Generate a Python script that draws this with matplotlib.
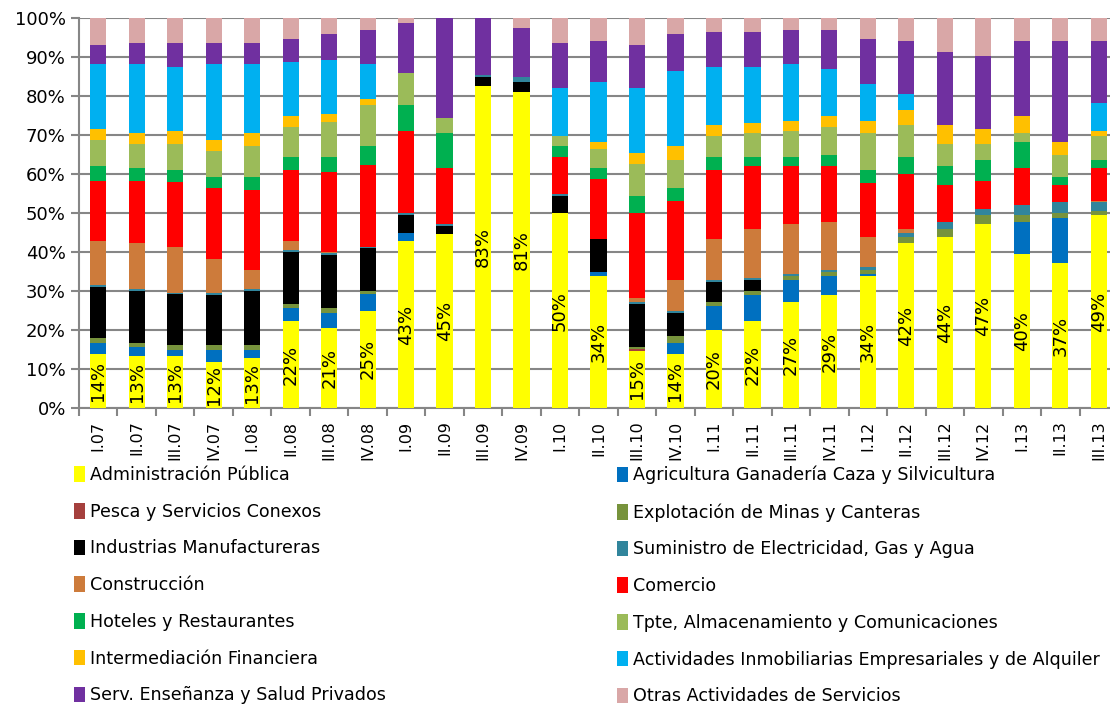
import numpy as np
import matplotlib
matplotlib.use("Agg")
import matplotlib.pyplot as plt
from matplotlib.patches import Patch

plt.rcParams['font.family'] = ['DejaVu Sans']

# trimestres
periodos = ["I.07", "II.07", "III.07", "IV.07", "I.08", "II.08", "III.08", "IV.08",
            "I.09", "II.09", "III.09", "IV.09", "I.10", "II.10", "III.10", "IV.10",
            "I.11", "II.11", "III.11", "IV.11", "I.12", "II.12", "III.12", "IV.12",
            "I.13", "II.13", "III.13"]

# participación (%) por sector
admin = [13.9, 13.4, 13.4, 11.7, 12.8, 22.2, 20.6, 25.0, 42.7, 44.6, 82.6, 80.9, 49.9, 33.9,
         14.7, 13.9, 20.0, 22.2, 27.2, 28.9, 33.9, 42.2, 43.8, 47.1, 39.6, 37.2, 49.4]
agri = [2.8, 2.2, 1.6, 3.3, 2.2, 3.4, 3.8, 4.4, 2.2, 0, 0, 0, 0, 1.1,
        0, 2.8, 6.1, 6.7, 5.5, 5.0, 0.5, 0, 0, 0, 8.1, 11.6, 0]
pesca = [0, 0, 0, 0, 0, 0, 0, 0, 0, 0, 0, 0, 0, 0,
         0.4, 0, 0, 0, 0, 0, 0, 0, 0, 0, 0, 0, 0]
minas = [1.2, 1.1, 1.1, 1.1, 1.1, 1.1, 1.2, 0.6, 0, 0, 0, 0, 0, 0,
         0.5, 1.7, 1.1, 1.1, 1.2, 1.1, 1.1, 1.6, 2.2, 2.3, 1.7, 1.1, 1.1]
industrias = [13.2, 13.3, 13.3, 12.8, 13.9, 13.2, 13.8, 11.1, 4.5, 2.0, 2.2, 2.8, 4.4, 8.3,
              11.1, 6.0, 5.0, 2.7, 0, 0, 0, 0, 0, 0, 0, 0, 0]
electricidad = [0.4, 0.5, 0.3, 0.5, 0.5, 0.6, 0.5, 0.3, 0.5, 0.5, 0.5, 1.1, 0.6, 0,
                0.5, 0.6, 0.5, 0.6, 0.5, 0.5, 0.6, 1.1, 1.7, 1.6, 2.7, 2.8, 2.2]
construccion = [11.2, 11.7, 11.7, 8.9, 5.0, 2.2, 0.2, 0, 0, 0, 0, 0, 0, 0,
                1.1, 7.7, 10.6, 12.7, 12.7, 12.2, 7.7, 1.1, 0, 0, 0, 0, 0.5]
comercio = [15.5, 16.0, 16.6, 18.2, 20.5, 18.3, 20.5, 21.0, 21.0, 14.4, 0, 0, 9.4, 15.5,
            21.6, 20.5, 17.7, 16.1, 15.0, 14.4, 13.9, 13.9, 9.4, 7.2, 9.4, 4.4, 8.3]
hoteles = [3.9, 3.3, 3.3, 2.8, 3.3, 3.3, 3.9, 5.0, 6.7, 8.9, 0, 0, 2.8, 2.7,
           4.4, 3.3, 3.3, 2.2, 2.2, 2.8, 3.3, 4.4, 5.0, 5.5, 6.7, 2.2, 2.2]
transporte = [6.6, 6.1, 6.6, 6.7, 7.8, 7.7, 8.9, 10.5, 8.3, 3.9, 0, 0, 2.7, 5.0,
              8.3, 7.2, 5.5, 6.1, 6.6, 7.1, 9.4, 8.3, 5.5, 3.9, 2.2, 5.6, 6.1]
financiera = [2.8, 2.8, 3.3, 2.7, 3.3, 2.8, 2.2, 1.6, 0, 0, 0, 0, 0, 1.7,
              2.8, 3.4, 2.8, 2.8, 2.8, 2.8, 3.3, 3.9, 5.0, 3.9, 4.4, 3.3, 1.1]
inmobiliarias = [16.6, 17.7, 16.6, 19.4, 17.7, 13.9, 13.8, 8.9, 0, 0, 0, 0, 12.2, 15.5,
                 16.6, 19.3, 14.9, 14.3, 14.4, 12.2, 9.4, 3.9, 0, 0, 0, 0, 7.2]
ensenanza = [5.0, 5.5, 6.1, 5.5, 5.5, 6.0, 6.6, 8.9, 12.7, 25.7, 14.7, 12.7, 11.6, 10.5,
             11.1, 9.4, 8.9, 8.9, 8.9, 10.0, 11.6, 13.8, 18.8, 18.8, 19.4, 26.0, 16.1]
otras = [6.9, 6.4, 6.4, 6.4, 6.4, 5.3, 4.2, 3.0, 1.4, 0, 0, 2.5, 6.4, 5.8,
         6.9, 4.2, 3.6, 3.6, 3.0, 3.0, 5.3, 5.8, 8.6, 9.7, 5.8, 5.8, 5.8]

nombres = ["Administración Pública", "Agricultura Ganadería Caza y Silvicultura",
           "Pesca y Servicios Conexos", "Explotación de Minas y Canteras",
           "Industrias Manufactureras", "Suministro de Electricidad, Gas y Agua",
           "Construcción", "Comercio",
           "Hoteles y Restaurantes", "Tpte, Almacenamiento y Comunicaciones",
           "Intermediación Financiera", "Actividades Inmobiliarias Empresariales y de Alquiler",
           "Serv. Enseñanza y Salud Privados", "Otras Actividades de Servicios"]
colores = ["#FFFF00", "#0070C0", "#A5403D", "#77933C", "#000000", "#31859C", "#CD7B3B",
           "#FF0000", "#00B050", "#9BBB59", "#FFC000", "#00B0F0", "#7030A0", "#D9A7A7"]

series = [admin, agri, pesca, minas, industrias, electricidad, construccion, comercio,
          hoteles, transporte, financiera, inmobiliarias, ensenanza, otras]

datos = np.array(series, dtype=float)
datos = datos / datos.sum(axis=0) * 100  # barras apiladas al 100%

fig = plt.figure(figsize=(11.1, 7.07), dpi=100)
ax = fig.add_axes([79 / 1110, 1 - 408 / 707, 1039 / 1110, 390 / 707])

x = np.arange(len(periodos))
base = np.zeros(len(periodos))
for fila, nombre, color in zip(datos, nombres, colores):
    ax.bar(x, fila, 0.42, bottom=base, color=color, label=nombre, zorder=3)
    base += fila

# etiquetas de Administración Pública
for i, v in enumerate(admin):
    ax.text(i, datos[0][i] / 2, f"{v:.0f}%", rotation=90, ha="center", va="center",
            fontsize=13, zorder=4)

gris = "#868686"
ax.set_xlim(-0.5, len(periodos) - 0.5)
ax.set_ylim(0, 100)
ax.set_yticks(np.arange(0, 101, 10))
ax.set_yticklabels([f"{t}%" for t in range(0, 101, 10)], fontsize=13)
ax.set_xticks(x)
ax.set_xticklabels(periodos, rotation=90, fontsize=11.5)
ax.set_xticks(np.arange(-0.5, len(periodos), 1), minor=True)
ax.tick_params(axis="x", which="major", length=0, pad=9)
ax.tick_params(axis="x", which="minor", length=6, color=gris, width=1.5)
ax.tick_params(axis="y", length=6, color=gris, width=1.5)
ax.yaxis.grid(True, color=gris, linewidth=1.5, zorder=0)
for lado in ["top", "right"]:
    ax.spines[lado].set_visible(False)
for lado in ["left", "bottom"]:
    ax.spines[lado].set_color(gris)
    ax.spines[lado].set_linewidth(1.5)

# leyenda en dos columnas (orden por filas)
h = [Patch(facecolor=c) for c in colores]
kw = dict(frameon=False, fontsize=12.6, handlelength=0.6, handleheight=1.0,
          handletextpad=0.3, labelspacing=1.07, borderaxespad=0, borderpad=0)
ley1 = fig.legend(h[0::2], nombres[0::2], loc="upper left",
                  bbox_to_anchor=(74 / 1110, 1 - 466 / 707), **kw)
ley2 = fig.legend(h[1::2], nombres[1::2], loc="upper left",
                  bbox_to_anchor=(617 / 1110, 1 - 466 / 707), **kw)

plt.savefig("out.png", dpi=100)
plt.close()
